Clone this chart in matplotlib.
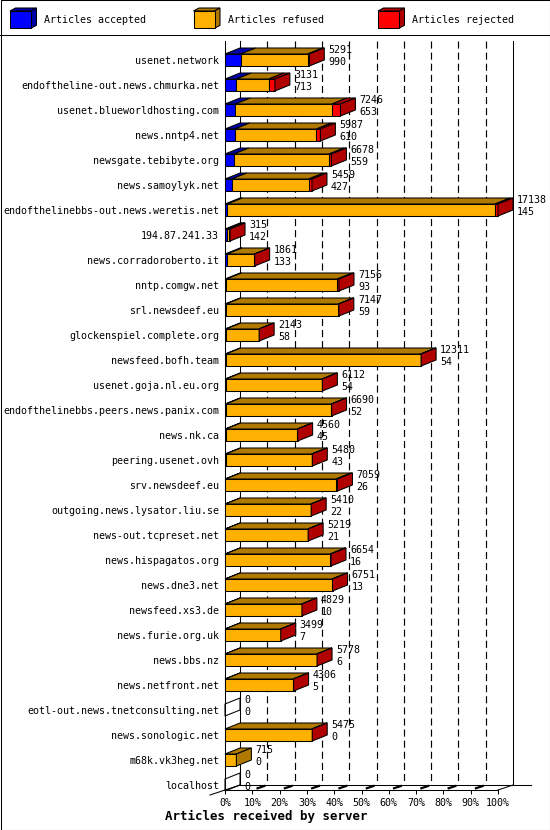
import numpy as np
import matplotlib.pyplot as plt
from matplotlib.patches import Polygon, Rectangle
from matplotlib.lines import Line2D

servers = [
    "usenet.network", "endoftheline-out.news.chmurka.net", "usenet.blueworldhosting.com",
    "news.nntp4.net", "newsgate.tebibyte.org", "news.samoylyk.net",
    "endofthelinebbs-out.news.weretis.net", "194.87.241.33", "news.corradoroberto.it",
    "nntp.comgw.net", "srl.newsdeef.eu", "glockenspiel.complete.org",
    "newsfeed.bofh.team", "usenet.goja.nl.eu.org", "endofthelinebbs.peers.news.panix.com",
    "news.nk.ca", "peering.usenet.ovh", "srv.newsdeef.eu",
    "outgoing.news.lysator.liu.se", "news-out.tcpreset.net", "news.hispagatos.org",
    "news.dne3.net", "newsfeed.xs3.de", "news.furie.org.uk",
    "news.bbs.nz", "news.netfront.net", "eotl-out.news.tnetconsulting.net",
    "news.sonologic.net", "m68k.vk3heg.net", "localhost",
]
totals = [5291, 3131, 7246, 5987, 6678, 5459, 17138, 315, 1861, 7156, 7147, 2143,
          12311, 6112, 6690, 4560, 5480, 7059, 5410, 5219, 6654, 6751, 4829, 3499,
          5778, 4306, 0, 5475, 715, 0]
accepted = [990, 713, 653, 610, 559, 427, 145, 142, 133, 93, 59, 58,
            54, 54, 52, 45, 43, 26, 22, 21, 16, 13, 10, 7,
            6, 5, 0, 0, 0, 0]
# rejected counts estimated from the red widths
rejected = [100, 380, 525, 250, 150, 210, 190, 85, 10, 100, 30, 10,
            30, 20, 20, 15, 40, 90, 15, 15, 50, 30, 10, 10,
            20, 10, 0, 20, 0, 0]
refused = [t - a - r for t, a, r in zip(totals, accepted, rejected)]

series = ["Articles accepted", "Articles refused", "Articles rejected"]
colors = ["#0000ff", "#ffb000", "#ff0000"]
darks = ["#0000a8", "#b07a00", "#b00000"]
ticks = list(range(0, 101, 10))
mono = "DejaVu Sans Mono"

W, H = 550, 830
fig = plt.figure(figsize=(W / 100, H / 100), dpi=100)

# main plot, front plane
ax = fig.add_axes([225 / W, 1 - 790 / H, 273 / W, (790 - 41) / H])
ax.set_xlim(0, 100)
ax.set_ylim(29.2, -0.76)
for s in ax.spines.values():
    s.set_visible(False)

sx = 100 / 273   # data units per pixel
sy = 1 / 25
dx, dy = 15 * sx, 6 * sy
dyf = 5 * sy
bh = 12 * sy
ytop, yfront = -0.76, 29.2
yback = yfront - dyf
lw = 0.75

vals = np.array([accepted, refused, rejected], dtype=float) / max(totals) * 100

# grid on back wall
for t in ticks[1:-1]:
    ax.plot([t + dx, t + dx], [ytop, yback], color="black", lw=0.85,
            linestyle=(0, (6, 3.4)), zorder=1, clip_on=False)

# walls and floor
kw = dict(color="black", lw=lw, zorder=1, clip_on=False)
ax.plot([0, 0], [ytop, yfront], **kw)
ax.plot([dx, dx], [ytop, yback], **kw)
ax.plot([100 + dx, 100 + dx], [ytop, yback], **kw)
ax.plot([0, 100], [yfront, yfront], **kw)
ax.plot([100, 100 + dx], [yfront, yback], **kw)
ax.plot([dx, 100 + dx + 18 * sx], [yback, yback], **kw)
ax.plot([-dx, dx], [yfront + dyf, yback], **kw)
for t in ticks[1:-1]:
    ax.plot([t + 0.35 * dx, t + 0.8 * dx], [yfront - 0.35 * dyf, yfront - 0.8 * dyf],
            color="black", lw=1.6, zorder=1, clip_on=False)

# 3D bars
for i in range(len(servers)):
    top, bot = i - bh / 2, i + bh / 2
    left = 0.0
    last = None
    for j in range(3):
        w = vals[j, i]
        if w <= 0:
            continue
        ax.barh(i, w, left=left, height=bh, color=colors[j], edgecolor="black",
                linewidth=lw, zorder=3, clip_on=False)
        ax.add_patch(Polygon([(left, top), (left + w, top), (left + w + dx, top - dy),
                              (left + dx, top - dy)], closed=True, facecolor=darks[j],
                             edgecolor="black", linewidth=lw, zorder=3, clip_on=False))
        left += w
        last = j
    side = [(left, top), (left + dx, top - dy), (left + dx, bot - dy), (left, bot)]
    if last is None:
        ax.add_patch(Polygon(side, closed=True, fill=False, edgecolor="black",
                             linewidth=lw, zorder=3, clip_on=False))
    else:
        ax.add_patch(Polygon(side, closed=True, facecolor=darks[last], edgecolor="black",
                             linewidth=lw, zorder=3, clip_on=False))
    xl = left + dx + 4 * sx
    ax.text(xl, i - 10 * sy, str(totals[i]), ha="left", va="center", fontsize=7.2,
            family=mono, zorder=4, clip_on=False)
    ax.text(xl, i + 1.5 * sy, str(accepted[i]), ha="left", va="center", fontsize=7.2,
            family=mono, zorder=4, clip_on=False)

ax.set_yticks(range(len(servers)), servers, family=mono, fontsize=7.2)
ax.tick_params(axis="y", length=0, pad=4.3)
ax.set_xticks(ticks, [f"{t}%" for t in ticks], family=mono, fontsize=7.2)
ax.tick_params(axis="x", length=2.9, width=0.72, pad=3.2, direction="out")

# legend strip
lax = fig.add_axes([0, 1 - 35 / H, 1, 35 / H])
lax.set_xlim(0, W)
lax.set_ylim(35, 0)
lax.axis("off")
for bx, tx, name, c, d in zip([10, 193.5, 378], [44.3, 228, 411.5], series, colors, darks):
    x0, x1, y0, y1 = bx, bx + 21, 11, 28.3
    lax.add_patch(Polygon([(x0, y0), (x1, y0), (x1 + 5.5, y0 - 3), (x0 + 5.5, y0 - 3)],
                          facecolor=d, edgecolor="black", linewidth=lw))
    lax.add_patch(Polygon([(x1, y0), (x1 + 5.5, y0 - 3), (x1 + 5.5, y1 - 3), (x1, y1)],
                          facecolor=d, edgecolor="black", linewidth=lw))
    lax.add_patch(Rectangle((x0, y0), x1 - x0, y1 - y0, facecolor=c, edgecolor="black",
                            linewidth=lw))
    lax.text(tx, 20, name, ha="left", va="center", fontsize=7.2, family=mono)

fig.add_artist(Line2D([0, 1], [1 - 35.5 / H, 1 - 35.5 / H], color="black", lw=lw))
fig.add_artist(Rectangle((0.5 / W, 0.5 / H), 1 - 1 / W, 1 - 1 / H, fill=False,
                         edgecolor="black", lw=lw, transform=fig.transFigure))
fig.text(266 / W, 1 - 816 / H, "Articles received by server", ha="center", va="center",
         fontsize=9, weight="bold", family=mono)

fig.savefig("out.png", dpi=100)
